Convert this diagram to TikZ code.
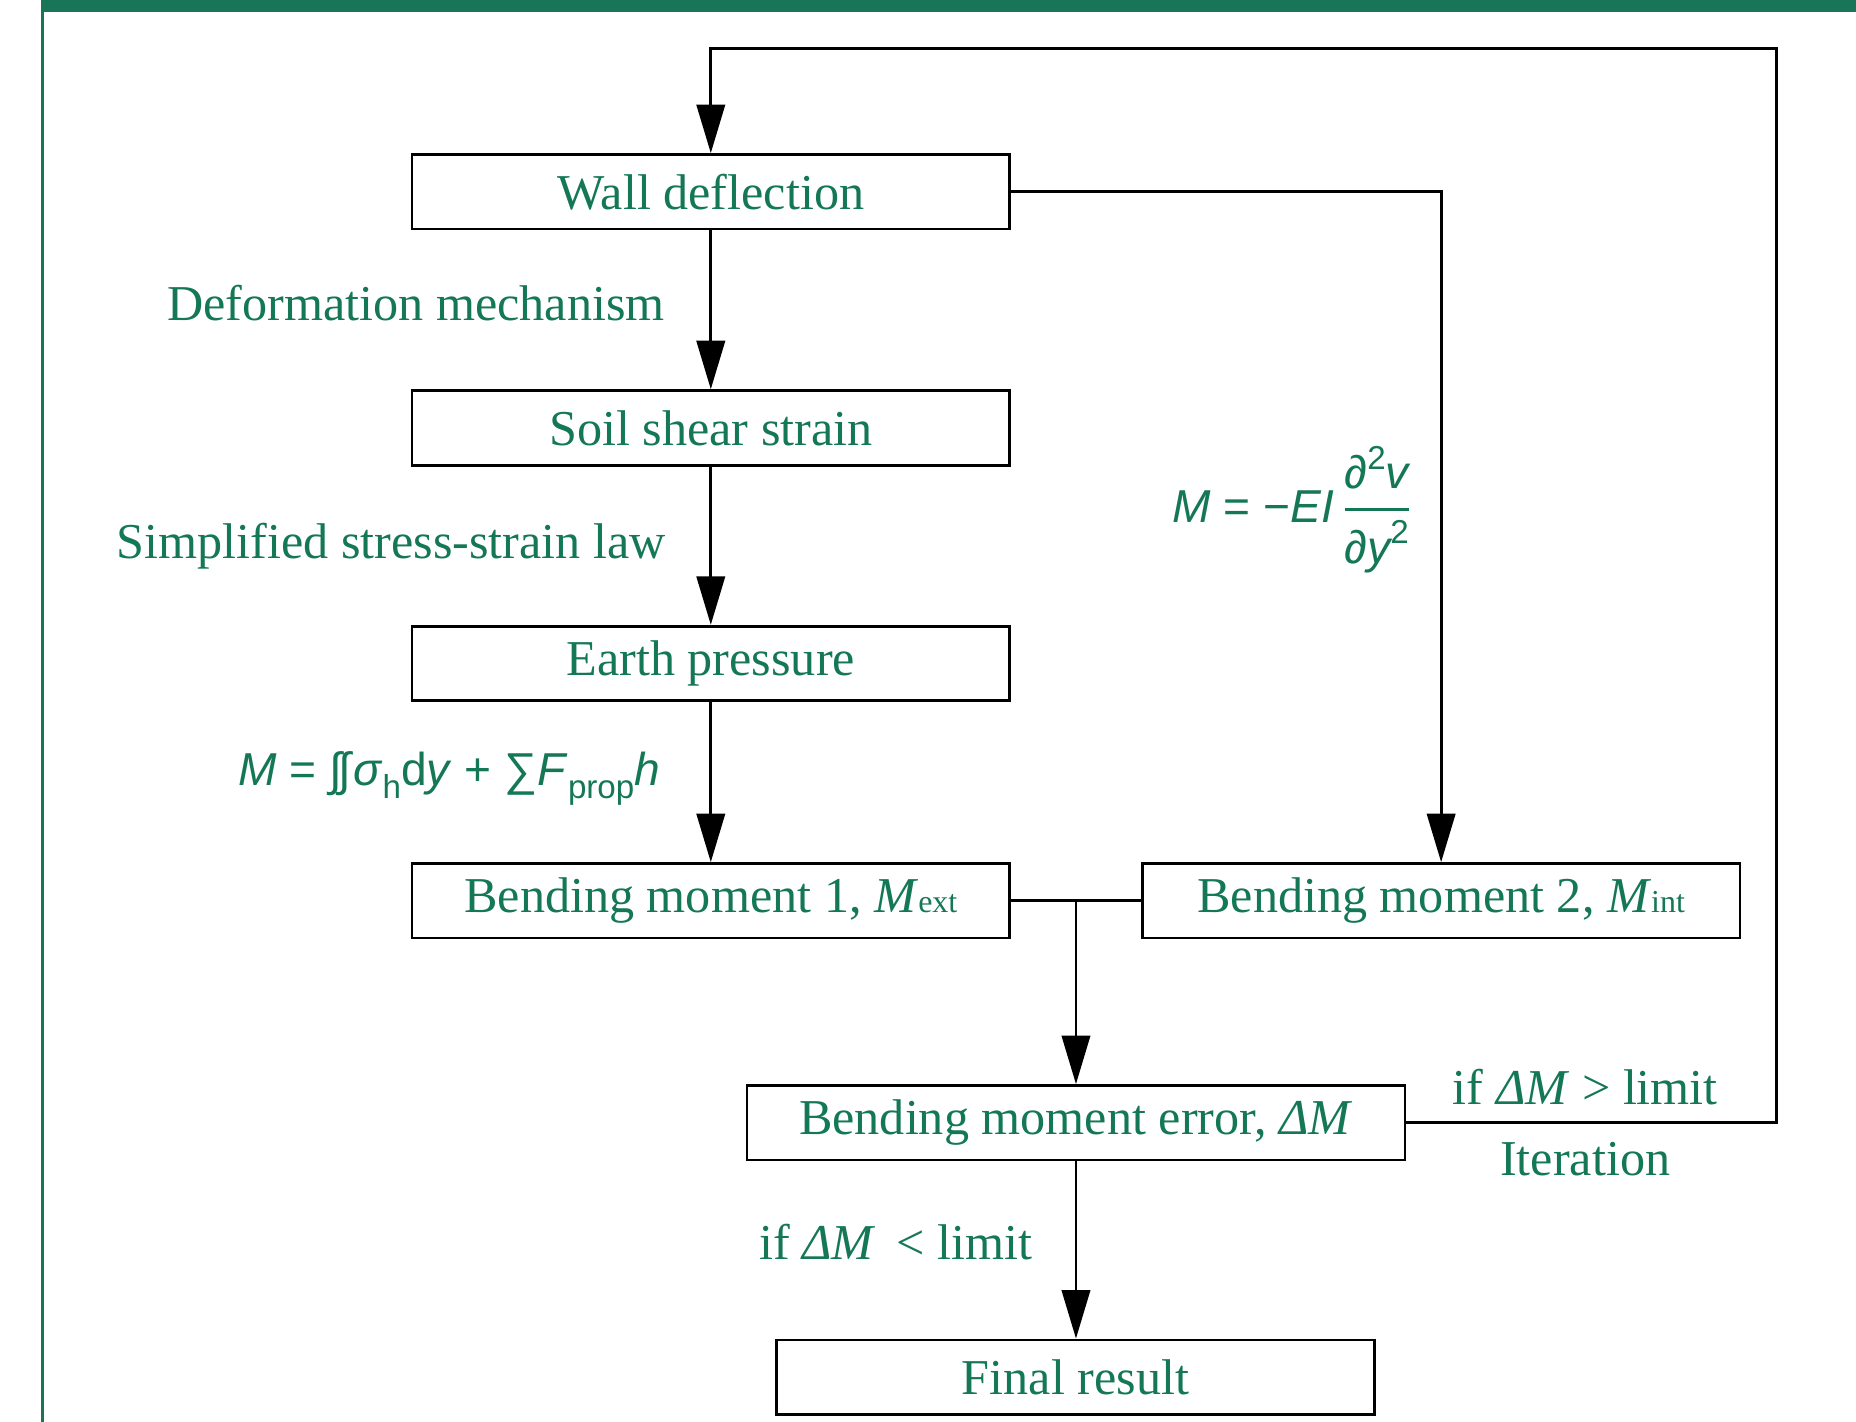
\documentclass[tikz,border=0pt]{standalone}
\usepackage{fontspec}
\setmainfont{Liberation Serif}
\newfontfamily\fs{Liberation Sans}
\usetikzlibrary{arrows.meta}
\definecolor{tgreen}{RGB}{20,120,86}
\definecolor{barc}{RGB}{24,117,87}
\newcommand{\subsm}[1]{{\fontsize{13.5}{13.5}\selectfont #1}}
\newcommand{\fsub}[1]{\raisebox{-0.28em}{\fontsize{14}{14}\selectfont #1}}
\newcommand{\fsup}[1]{\raisebox{0.42em}{\fontsize{14}{14}\selectfont\upshape #1}}
\begin{document}
\begin{tikzpicture}[x=0.5pt,y=-0.5pt,
  flowbox/.style={draw=black, line width=1.15pt, rectangle, minimum height=31.5pt,
    minimum width=252.5pt, inner sep=0pt, text=tgreen, font=\fontsize{21.2}{24}\selectfont},
  lab/.style={text=tgreen, inner sep=0pt, font=\fontsize{21.2}{24}\selectfont},
  flab/.style={text=tgreen, inner sep=0pt, font=\fs\fontsize{19.5}{24}\selectfont},
  flowarrow/.style={-{Triangle[length=20.5pt,width=12pt]}, line width=1.15pt},
  conn/.style={line width=1.15pt}]
\useasboundingbox (0,0) rectangle (1568,1201);
% frame
\fill[barc] (35,0) rectangle (1568,10.5);
\draw[barc, line width=1.3pt] (35.7,0) -- (35.7,1201);
% boxes
\node[flowbox] (wd) at (600.5,162) {Wall deflection};
\node[flowbox] (ss) at (600.5,361.5) {Soil shear strain};
\node[flowbox] (ep) at (600.5,560.5) {Earth pressure};
\node[flowbox] (bm1) at (600.5,761) {Bending moment 1, \textit{M}\subsm{ext}};
\node[flowbox] (bm2) at (1217.5,761) {Bending moment 2, \textit{M}\subsm{int}};
\node[flowbox, minimum width=278pt] (err) at (909,948.5) {Bending moment error, \textit{ΔM}};
\node[flowbox] (fin) at (908.5,1163.5) {Final result};
% connectors
\draw[flowarrow] (wd) -- (ss);
\draw[flowarrow] (ss) -- (ep);
\draw[flowarrow] (ep) -- (bm1);
\coordinate (tr) at (1501,41);
\coordinate (tl) at (600.5,41);
\draw[flowarrow] (err.east) -| (tr) -- (tl) -- (wd.north);
\draw[flowarrow] (wd.east) -| (bm2.north);
\draw[conn] (bm1.east) -- (bm2.west);
\draw[flowarrow] (err.north |- bm1.east) -- (err.north);
\draw[flowarrow] (err.south) -- (err.south |- fin.north);
% labels
\node[lab, anchor=base east] (l1) at (562,271) {Deformation mechanism};
\node[lab, anchor=base east] (l2) at (563,472) {Simplified stress-strain law};
\node[flab, anchor=base east] (l3) at (558,664) {\itshape M\/ \upshape= \itshape∫\kern-0.08em∫\kern0.05em σ\/\upshape\fsub{h}d\itshape y\/ \upshape+ ∑\itshape F\/\upshape\fsub{prop}\itshape h};
\node[flab, anchor=base west] (l4) at (990,441) {\itshape M \upshape= −\itshape EI\,$\displaystyle{\mbox{\fs\itshape ∂\fsup{2}v}\above1.3pt\mbox{\fs\itshape ∂y\fsup{2}}}$};
\node[lab, anchor=base west] (l5) at (1227,933) {if \textit{ΔM} > limit};
\node[lab, anchor=base west] (l6) at (1267,993) {Iteration};
\node[lab, anchor=base west] (l7) at (641,1064) {if \textit{ΔM}\, < limit};
\end{tikzpicture}
\end{document}
